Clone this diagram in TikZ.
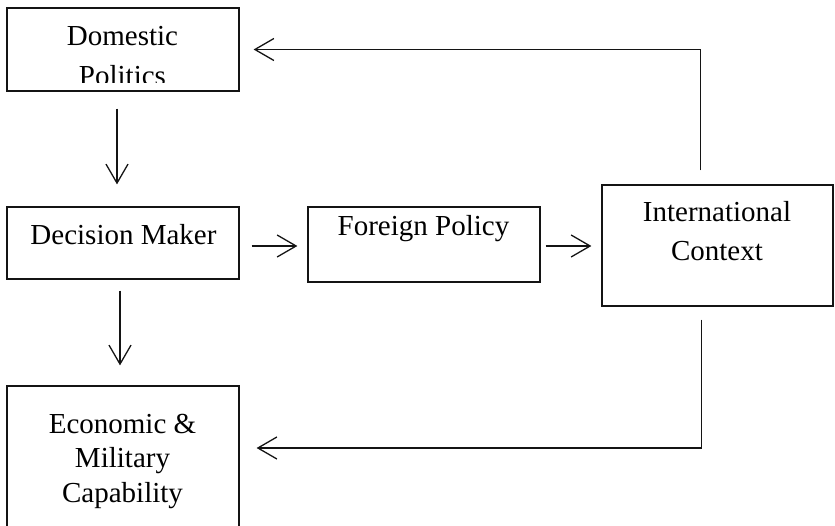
\documentclass[tikz,border=0pt]{standalone}
\usepackage{fontspec}
\setmainfont{Liberation Serif}
\usetikzlibrary{arrows.meta,positioning,calc}
\definecolor{ink}{RGB}{20,20,20}
\tikzset{
  >={Straight Barb[length=19pt,width=22pt]},
  box/.style={draw=ink,line width=1.2pt,minimum width=232pt,inner sep=0pt},
  flow/.style={->,line width=1.3pt,draw=ink},
  tag/.style={font=\fontsize{29}{#1}\selectfont,text=black,align=center,
    inner sep=0pt,anchor=base},
  tag/.default=35,
}

\begin{document}
\begin{tikzpicture}[x=1pt,y=-1pt]
  \clip (0,0) rectangle (835,526);
  % boxes
  \node[box,minimum height=83pt] (dom) at (123,49.5) {};
  \node[box,minimum height=72pt] (dm) at (123,243) {};
  \node[box,minimum height=75pt] (fp) at (424,244.5) {};
  \node[box,minimum width=231pt,minimum height=121pt] (ic) at (717.5,245.5) {};
  \node[box,minimum height=150pt] (econ) at (123,461) {};
  % texts (anchor = baseline of last line)
  \begin{scope}
    \clip (dom.north west) rectangle ([yshift=9pt]dom.south east);
    \node[tag=40] (domt) at (122.5,86) {Domestic\\Politics};
  \end{scope}
  \node[tag] (dmt) at (123.5,245) {Decision Maker};
  \node[tag] (fpt) at (423.5,236) {Foreign Policy};
  \node[tag=39] (ict) at (717,261) {International\\Context};
  \node[tag=34.5] (econt) at (122.5,502) {Economic \&\\Military\\Capability};
  % arrows
  \draw[flow,shorten <=17pt,shorten >=22pt] ([xshift=-6pt]dom.south) -- ([xshift=-6pt]dm.north);
  \draw[flow,shorten <=11pt,shorten >=20pt] ([xshift=-3pt]dm.south) -- ([xshift=-3pt]econ.north);
  \draw[flow,shorten <=12pt,shorten >=10pt] ([yshift=-3pt]dm.east) -- ([yshift=-3pt]dm.east -| fp.west);
  \draw[flow,shorten <=5pt,shorten >=10pt] ([yshift=-1.5pt]fp.east) -- ([yshift=-1.5pt]fp.east -| ic.west);
  \draw[flow,shorten <=14pt,shorten >=14pt] ([xshift=-17pt]ic.north) |- (dom.east);
  \draw[flow,shorten <=13pt,shorten >=17pt] ([xshift=-16pt]ic.south) |- ([yshift=13pt]econ.east);
\end{tikzpicture}
\end{document}
